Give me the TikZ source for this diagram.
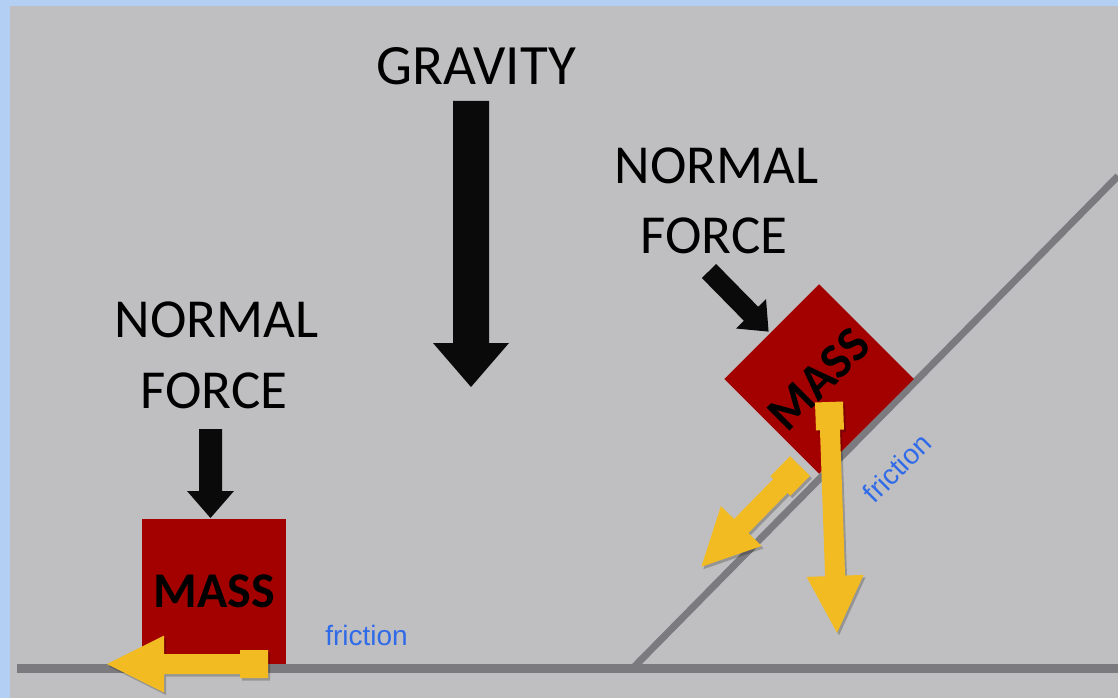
\documentclass[tikz,border=0pt]{standalone}
\usepackage{fontspec}
\setmainfont{Carlito}
\newfontfamily\arialf{Liberation Sans}
\definecolor{bgblue}{HTML}{B3CFF3}
\definecolor{bggray}{HTML}{BFBFC1}
\definecolor{linegray}{HTML}{7B7B7F}
\definecolor{massred}{HTML}{A30000}
\definecolor{arryellow}{HTML}{F2BB22}
\definecolor{fricblue}{HTML}{2F6BE8}
\definecolor{arrblack}{HTML}{0A0A0A}
% yellow force arrow: x y angle length style
\newcommand{\yarrpoly}[5]{%
 \begin{scope}[shift={(#1,#2)},rotate=#3]
 \fill[#5] (0,-14) -- (28,-14) -- (28,-10) -- ({#4-57},-10) -- ({#4-57},-28.5) -- (#4,0) -- ({#4-57},28.5) -- ({#4-57},10) -- (28,10) -- (28,14) -- (0,14) -- cycle;
 \end{scope}}
\newcommand{\yarr}[4]{%
 \begin{scope}[shift={(2,2.5)}]\yarrpoly{#1}{#2}{#3}{#4}{black,opacity=0.22}\end{scope}
 \yarrpoly{#1}{#2}{#3}{#4}{arryellow}}
% black force arrow: x y angle length shafthalf headhalf headlen
\newcommand{\barr}[7]{%
 \begin{scope}[shift={(#1,#2)},rotate=#3]
 \fill[arrblack] (0,-#5) -- ({#4-#7},-#5) -- ({#4-#7},-#6) -- (#4,0) -- ({#4-#7},#6) -- ({#4-#7},#5) -- (0,#5) -- cycle;
 \end{scope}}
\tikzset{
 bigtext/.style={font=\fontsize{55}{60}\selectfont, text=black, inner sep=0pt},
 masstext/.style={font=\bfseries\fontsize{50}{50}\selectfont, text=black},
 fric/.style={font=\arialf\fontsize{28}{28}\selectfont, text=fricblue, inner sep=0pt},
 ground/.style={draw=linegray, line width=9pt},
 incline/.style={draw=linegray, line width=7pt},
}
\begin{document}
\begin{tikzpicture}[x=1pt,y=-1pt]
\useasboundingbox (0,0) rectangle (1118,698);
\fill[bgblue] (0,0) rectangle (1118,698);
\fill[bggray] (10,6) rectangle (1118,698);

% surfaces
\coordinate (g0) at (17,668);
\coordinate (g1) at (1118,668);
\coordinate (i0) at (633,668);
\coordinate (i1) at (1118,176);
\draw[ground] (g0) -- (g1);
\draw[incline] (i0) -- (i1);

% texts
\node[bigtext, font=\fontsize{57}{60}\selectfont, anchor=base] (grav) at (476,85) {GRAVITY};
\node[bigtext, anchor=base] (nl1) at (216.5,337) {NORMAL};
\node[bigtext, anchor=base] (nl2) at (214,408) {FORCE};
\node[bigtext, anchor=base] (nr1) at (716.5,183) {NORMAL};
\node[bigtext, anchor=base] (nr2) at (714,253) {FORCE};

% masses
\node[fill=massred, minimum width=144pt, minimum height=145pt, masstext] (m1) at (214,591.5) {MASS};
\node[fill=massred, minimum size=134pt, rotate=45, masstext] (m2) at (819,379) {MASS};

% black arrows
\barr{471}{101}{-90}{286}{18}{38}{44}
\barr{210.5}{429}{-90}{89}{11.5}{23.5}{27}
\barr{709}{271}{-45.5}{85}{10}{21}{25}

% yellow arrows
\yarr{268}{664}{180}{161}
\yarr{829}{402}{-88}{231}
\yarr{800}{466}{225.6}{141}

% friction labels
\node[fric, anchor=base] (f1) at (366.5,645) {friction};
\node[fric, rotate=45] (f2) at (897,468) {friction};
\end{tikzpicture}
\end{document}
